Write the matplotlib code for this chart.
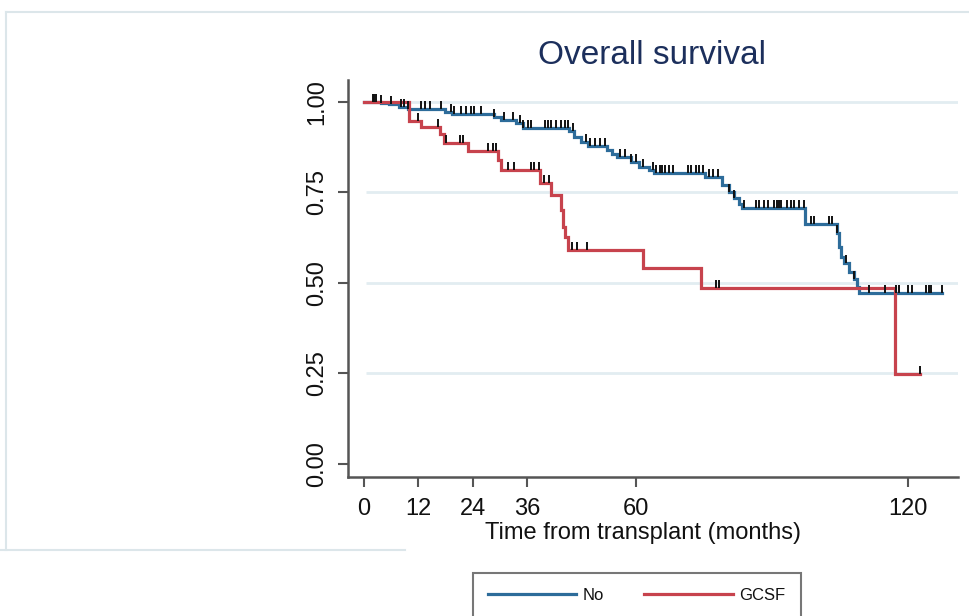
import numpy as np
import matplotlib
matplotlib.use("Agg")
import matplotlib.pyplot as plt
from matplotlib.path import Path
from matplotlib.lines import Line2D

plt.rcParams['font.family'] = ['Liberation Sans', 'DejaVu Sans']

# ---- data ----
title = "Overall survival"
xlabel = "Time from transplant (months)"
xticks = [0, 12, 24, 36, 60, 120]
yticks = [0.0, 0.25, 0.5, 0.75, 1.0]
ytick_labels = ["0.00", "0.25", "0.50", "0.75", "1.00"]
grid_levels = [0.25, 0.5, 0.75, 1.0]
series_names = ["No", "GCSF"]

no_times = [0, 3.8, 5.5, 7.8, 9.7, 17.8, 19.5, 28.8, 30.3, 33.6, 35.1, 45.3, 46.4,
            47.9, 49.4, 53.7, 54.8, 55.9, 58.9, 60.7, 62.9, 64.0, 75.2, 79.0, 80.5,
            81.6, 82.7, 83.4, 97.3, 104.4, 104.7, 105.1, 105.9, 107.0, 108.1, 108.8,
            109.2]
no_surv = [1.0, 0.996, 0.993, 0.986, 0.979, 0.972, 0.966, 0.959, 0.950, 0.941, 0.927,
           0.918, 0.904, 0.890, 0.878, 0.867, 0.857, 0.848, 0.834, 0.821, 0.811, 0.804,
           0.791, 0.770, 0.752, 0.733, 0.719, 0.708, 0.662, 0.637, 0.600, 0.572, 0.554,
           0.531, 0.512, 0.489, 0.471]
no_end = 127.5
no_censor = [2.0, 2.3, 2.7, 3.8, 6.0, 8.2, 8.9, 9.7, 12.6, 13.4, 14.5, 16.9, 19.2, 19.9,
             21.4, 22.5, 23.6, 24.3, 25.8, 28.8, 31.0, 32.9, 34.4, 35.1, 36.2, 36.9, 39.9,
             40.6, 41.3, 42.4, 43.5, 44.3, 45.0, 46.1, 49.0, 49.8, 50.9, 52.0, 53.1, 56.4,
             57.5, 58.9, 60.0, 61.5, 63.7, 64.4, 65.2, 65.8, 66.5, 67.3, 68.1, 71.4, 72.1,
             73.2, 74.0, 74.7, 76.0, 77.0, 78.0, 80.5, 81.6, 83.8, 86.4, 87.2, 88.2, 89.0,
             90.4, 91.0, 91.5, 91.9, 93.4, 94.1, 94.9, 96.0, 97.0, 98.5, 99.2, 102.5,
             103.3, 104.4, 106.2, 108.1, 111.4, 115.0, 117.3, 117.9, 120.0, 120.9, 123.9,
             124.6, 125.0, 127.5]

gcsf_times = [0, 10.0, 12.6, 16.7, 17.6, 22.9, 29.5, 30.2, 38.9, 41.3, 43.5, 43.8,
              44.3, 44.9, 61.5, 74.3, 117.0]
gcsf_surv = [1.0, 0.948, 0.929, 0.910, 0.887, 0.865, 0.840, 0.811, 0.776, 0.742, 0.701,
             0.655, 0.627, 0.592, 0.540, 0.485, 0.248]
gcsf_end = 122.6
gcsf_censor = [11.9, 16.3, 18.1, 21.1, 21.8, 27.3, 28.4, 29.1, 31.7, 33.2, 36.9, 37.6,
               38.7, 39.8, 40.9, 46.0, 47.1, 49.3, 77.6, 78.2, 122.6]

colors = ["#2d6c9a", "#c7434d"]

# ---- figure ----
W, H, DPI = 970, 616, 100
fig = plt.figure(figsize=(W / DPI, H / DPI), dpi=DPI)
fig.patch.set_facecolor("white")

# faint outer frame
frame_c = "#dce6ea"
fig.add_artist(Line2D([6 / W, 6 / W], [1 - 12 / H, 1 - 550 / H], color=frame_c, lw=1.5))
fig.add_artist(Line2D([6 / W, 1.0], [1 - 12 / H, 1 - 12 / H], color=frame_c, lw=1.5))
fig.add_artist(Line2D([0, 405 / W], [1 - 550 / H, 1 - 550 / H], color=frame_c, lw=1.5))

ax = fig.add_axes([348 / W, 1 - 477 / H, (958 - 348) / W, (477 - 80) / H])
ax.set_xlim(-3.5, 131)
ax.set_ylim(-0.036, 1.06)

for s in ["top", "right"]:
    ax.spines[s].set_visible(False)
for s in ["left", "bottom"]:
    ax.spines[s].set_color("#555555")
    ax.spines[s].set_linewidth(1.8)

ax.hlines(grid_levels, 0.5, 131, colors="#e2edf1", lw=2, zorder=0)

tick_marker = Path([(0, 0), (0, 1)])


def draw(times, surv, end, censor, color, z):
    t = np.array(times + [end])
    s = np.array(surv + [surv[-1]])
    ax.step(t, s, where="post", color=color, lw=2.3, zorder=z, solid_joinstyle="miter")
    idx = np.searchsorted(np.array(times), np.array(censor), side="right") - 1
    cs = np.array(surv)[idx]
    ax.plot(censor, cs, ls="none", marker=tick_marker, ms=12, mew=1.4,
            mec="#111111", zorder=z + 2)
    return t, s


draw(no_times, no_surv, no_end, no_censor, colors[0], 2)
draw(gcsf_times, gcsf_surv, gcsf_end, gcsf_censor, colors[1], 3)

ax.set_xticks(xticks)
ax.set_xticklabels([str(v) for v in xticks])
ax.set_yticks(yticks)
ax.set_yticklabels(ytick_labels, rotation=90, va="center")
ax.tick_params(axis="both", direction="out", length=7, width=1.5, color="#555555",
               labelsize=17, labelcolor="#111111")
ax.tick_params(axis="x", pad=8)
ax.tick_params(axis="y", pad=7)

ax.set_xlabel(xlabel, fontsize=17, color="#111111")
ax.xaxis.set_label_coords((643 - 348) / (958 - 348), -0.141)
ax.xaxis.label.set_va("center")

fig.text(652 / W, 1 - 56 / H, title, ha="center", va="center", fontsize=24,
         color="#1c2f5c")

handles = [Line2D([], [], color=colors[0], lw=2.3), Line2D([], [], color=colors[1], lw=2.3)]
leg = fig.legend(handles, series_names, loc="upper left",
                 bbox_to_anchor=(473 / W, 1 - 573 / H), ncol=2, frameon=True,
                 fancybox=False, fontsize=12, handlelength=5.3, handletextpad=0.4,
                 columnspacing=2.4, borderpad=0.9, borderaxespad=0,
                 labelcolor="#111111")
leg.get_frame().set_edgecolor("#555555")
leg.get_frame().set_linewidth(1.5)

fig.savefig("out.png", dpi=DPI)
